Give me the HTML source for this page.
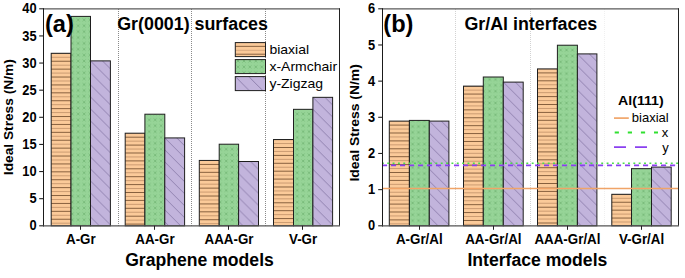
<!DOCTYPE html>
<html><head><meta charset="utf-8"><style>
html,body{margin:0;padding:0;background:#fff;width:685px;height:278px;overflow:hidden}
svg{display:block}
text{font-family:"Liberation Sans", sans-serif}
</style></head><body>
<svg width="685" height="278" viewBox="0 0 685 278">
<defs>
<pattern id="porL" patternUnits="userSpaceOnUse" x="0" y="5.90" width="8" height="7.85">
 <rect width="8" height="7.85" fill="#FBCA99"/>
 <rect y="0" width="8" height="0.9" fill="#7a5434"/>
 <rect y="3.925" width="8" height="0.8" fill="#cfa077"/>
</pattern>
<pattern id="pgrL" patternUnits="userSpaceOnUse" x="-1.72" y="-0.72" width="5.92" height="5.88">
 <rect width="5.92" height="5.88" fill="#96D497"/>
 <path d="M1.46 1.44 l3 3 M4.46 1.44 l-3 3" stroke="#64a866" stroke-width="0.55"/>
</pattern>
<pattern id="ppuL" patternUnits="userSpaceOnUse" x="5.20" y="0" width="12.0" height="12.0" >
 <rect width="12.0" height="12.0" fill="#C2B4DC"/>
 <path d="M-1 -1 L13.0 13.0 M-1 11.0 L1 13.0 M11.0 -1 L13.0 1" stroke="#66578a" stroke-width="0.55"/>
</pattern>
<pattern id="porR" patternUnits="userSpaceOnUse" x="0" y="7.25" width="8" height="7.85">
 <rect width="8" height="7.85" fill="#FBCA99"/>
 <rect y="0" width="8" height="0.9" fill="#7a5434"/>
 <rect y="3.925" width="8" height="0.8" fill="#cfa077"/>
</pattern>
<pattern id="pgrR" patternUnits="userSpaceOnUse" x="1.16" y="0.08" width="5.92" height="5.88">
 <rect width="5.92" height="5.88" fill="#96D497"/>
 <path d="M1.46 1.44 l3 3 M4.46 1.44 l-3 3" stroke="#64a866" stroke-width="0.55"/>
</pattern>
<pattern id="ppuR" patternUnits="userSpaceOnUse" x="7.80" y="0" width="12.0" height="12.0" >
 <rect width="12.0" height="12.0" fill="#C2B4DC"/>
 <path d="M-1 -1 L13.0 13.0 M-1 11.0 L1 13.0 M11.0 -1 L13.0 1" stroke="#66578a" stroke-width="0.55"/>
</pattern>
<pattern id="porG" patternUnits="userSpaceOnUse" x="0" y="6.60" width="8" height="7.85">
 <rect width="8" height="7.85" fill="#FBCA99"/>
 <rect y="0" width="8" height="0.9" fill="#7a5434"/>
 <rect y="3.925" width="8" height="0.8" fill="#cfa077"/>
</pattern>
<pattern id="pgrG" patternUnits="userSpaceOnUse" x="-1.72" y="-0.72" width="5.92" height="5.88">
 <rect width="5.92" height="5.88" fill="#96D497"/>
 <path d="M1.46 1.44 l3 3 M4.46 1.44 l-3 3" stroke="#64a866" stroke-width="0.55"/>
</pattern>
<pattern id="ppuG" patternUnits="userSpaceOnUse" x="10.20" y="0" width="13.5" height="13.5" >
 <rect width="13.5" height="13.5" fill="#C2B4DC"/>
 <path d="M-1 -1 L14.5 14.5 M-1 12.5 L1 14.5 M12.5 -1 L14.5 1" stroke="#66578a" stroke-width="0.55"/>
</pattern></defs>
<rect width="685" height="278" fill="#fff"/>

<line x1="118.5" y1="9.0" x2="118.5" y2="225.8" stroke="#8a8a8a" stroke-width="1" stroke-dasharray="1 1"/>
<line x1="191.5" y1="9.0" x2="191.5" y2="225.8" stroke="#8a8a8a" stroke-width="1" stroke-dasharray="1 1"/>
<line x1="265.5" y1="9.0" x2="265.5" y2="225.8" stroke="#8a8a8a" stroke-width="1" stroke-dasharray="1 1"/>
<pattern id="porL0" patternUnits="userSpaceOnUse" x="0" y="60.74" width="8" height="7.9"><rect width="8" height="7.9" fill="#FBCA99"/><rect y="0" width="8" height="0.9" fill="#7a5434"/><rect y="3.950" width="8" height="0.8" fill="#c09068"/></pattern>
<pattern id="ppuL0" patternUnits="userSpaceOnUse" x="90.50" y="60.88" width="12.0" height="12.0"><rect width="12.0" height="12.0" fill="#C2B4DC"/><path d="M-1 -1 L13.0 13.0 M-1 11.0 L1 13.0 M11.0 -1 L13.0 1" stroke="#66578a" stroke-width="0.55"/></pattern>
<rect x="51.20" y="53.29" width="19.80" height="172.51" fill="url(#porL0)" stroke="#1e1e1e" stroke-width="1"/>
<rect x="71.00" y="16.40" width="19.50" height="209.41" fill="url(#pgrL)" stroke="#1e1e1e" stroke-width="1"/>
<rect x="90.50" y="60.88" width="19.90" height="164.92" fill="url(#ppuL0)" stroke="#1e1e1e" stroke-width="1"/>
<pattern id="porL1" patternUnits="userSpaceOnUse" x="0" y="136.70" width="8" height="7.9"><rect width="8" height="7.9" fill="#FBCA99"/><rect y="0" width="8" height="0.9" fill="#7a5434"/><rect y="3.950" width="8" height="0.8" fill="#c09068"/></pattern>
<pattern id="ppuL1" patternUnits="userSpaceOnUse" x="164.80" y="137.92" width="12.0" height="12.0"><rect width="12.0" height="12.0" fill="#C2B4DC"/><path d="M-1 -1 L13.0 13.0 M-1 11.0 L1 13.0 M11.0 -1 L13.0 1" stroke="#66578a" stroke-width="0.55"/></pattern>
<rect x="125.20" y="133.20" width="19.70" height="92.60" fill="url(#porL1)" stroke="#1e1e1e" stroke-width="1"/>
<rect x="144.90" y="114.21" width="19.90" height="111.59" fill="url(#pgrL)" stroke="#1e1e1e" stroke-width="1"/>
<rect x="164.80" y="137.92" width="19.80" height="87.88" fill="url(#ppuL1)" stroke="#1e1e1e" stroke-width="1"/>
<pattern id="porL2" patternUnits="userSpaceOnUse" x="0" y="163.93" width="8" height="7.9"><rect width="8" height="7.9" fill="#FBCA99"/><rect y="0" width="8" height="0.9" fill="#7a5434"/><rect y="3.950" width="8" height="0.8" fill="#c09068"/></pattern>
<pattern id="ppuL2" patternUnits="userSpaceOnUse" x="238.60" y="161.51" width="12.0" height="12.0"><rect width="12.0" height="12.0" fill="#C2B4DC"/><path d="M-1 -1 L13.0 13.0 M-1 11.0 L1 13.0 M11.0 -1 L13.0 1" stroke="#66578a" stroke-width="0.55"/></pattern>
<rect x="199.30" y="160.43" width="19.90" height="65.37" fill="url(#porL2)" stroke="#1e1e1e" stroke-width="1"/>
<rect x="219.20" y="144.21" width="19.40" height="81.59" fill="url(#pgrL)" stroke="#1e1e1e" stroke-width="1"/>
<rect x="238.60" y="161.51" width="19.90" height="64.29" fill="url(#ppuL2)" stroke="#1e1e1e" stroke-width="1"/>
<pattern id="porL3" patternUnits="userSpaceOnUse" x="0" y="146.99" width="8" height="7.9"><rect width="8" height="7.9" fill="#FBCA99"/><rect y="0" width="8" height="0.9" fill="#7a5434"/><rect y="3.950" width="8" height="0.8" fill="#c09068"/></pattern>
<pattern id="ppuL3" patternUnits="userSpaceOnUse" x="312.90" y="97.34" width="12.0" height="12.0"><rect width="12.0" height="12.0" fill="#C2B4DC"/><path d="M-1 -1 L13.0 13.0 M-1 11.0 L1 13.0 M11.0 -1 L13.0 1" stroke="#66578a" stroke-width="0.55"/></pattern>
<rect x="273.50" y="139.54" width="20.00" height="86.26" fill="url(#porL3)" stroke="#1e1e1e" stroke-width="1"/>
<rect x="293.50" y="109.33" width="19.40" height="116.47" fill="url(#pgrL)" stroke="#1e1e1e" stroke-width="1"/>
<rect x="312.90" y="97.34" width="19.70" height="128.46" fill="url(#ppuL3)" stroke="#1e1e1e" stroke-width="1"/>
<line x1="455.5" y1="9.0" x2="455.5" y2="225.8" stroke="#d2d2d2" stroke-width="1" stroke-dasharray="1 1"/>
<line x1="530.5" y1="9.0" x2="530.5" y2="225.8" stroke="#d2d2d2" stroke-width="1" stroke-dasharray="1 1"/>
<line x1="604.5" y1="9.0" x2="604.5" y2="225.8" stroke="#f0f0f0" stroke-width="1" stroke-dasharray="1 1"/>
<pattern id="porR0" patternUnits="userSpaceOnUse" x="0" y="124.60" width="8" height="7.9"><rect width="8" height="7.9" fill="#FBCA99"/><rect y="0" width="8" height="0.9" fill="#7a5434"/><rect y="3.950" width="8" height="0.8" fill="#c09068"/></pattern>
<pattern id="ppuR0" patternUnits="userSpaceOnUse" x="429.30" y="121.10" width="12.0" height="12.0"><rect width="12.0" height="12.0" fill="#C2B4DC"/><path d="M-1 -1 L13.0 13.0 M-1 11.0 L1 13.0 M11.0 -1 L13.0 1" stroke="#66578a" stroke-width="0.55"/></pattern>
<rect x="389.30" y="121.10" width="20.10" height="104.70" fill="url(#porR0)" stroke="#1e1e1e" stroke-width="1"/>
<rect x="409.40" y="120.41" width="19.90" height="105.39" fill="url(#pgrR)" stroke="#1e1e1e" stroke-width="1"/>
<rect x="429.30" y="121.10" width="19.60" height="104.70" fill="url(#ppuR0)" stroke="#1e1e1e" stroke-width="1"/>
<pattern id="porR1" patternUnits="userSpaceOnUse" x="0" y="93.57" width="8" height="7.9"><rect width="8" height="7.9" fill="#FBCA99"/><rect y="0" width="8" height="0.9" fill="#7a5434"/><rect y="3.950" width="8" height="0.8" fill="#c09068"/></pattern>
<pattern id="ppuR1" patternUnits="userSpaceOnUse" x="503.30" y="82.11" width="12.0" height="12.0"><rect width="12.0" height="12.0" fill="#C2B4DC"/><path d="M-1 -1 L13.0 13.0 M-1 11.0 L1 13.0 M11.0 -1 L13.0 1" stroke="#66578a" stroke-width="0.55"/></pattern>
<rect x="463.50" y="86.12" width="19.80" height="139.68" fill="url(#porR1)" stroke="#1e1e1e" stroke-width="1"/>
<rect x="483.30" y="77.01" width="20.00" height="148.79" fill="url(#pgrR)" stroke="#1e1e1e" stroke-width="1"/>
<rect x="503.30" y="82.11" width="19.90" height="143.69" fill="url(#ppuR1)" stroke="#1e1e1e" stroke-width="1"/>
<pattern id="porR2" patternUnits="userSpaceOnUse" x="0" y="72.41" width="8" height="7.9"><rect width="8" height="7.9" fill="#FBCA99"/><rect y="0" width="8" height="0.9" fill="#7a5434"/><rect y="3.950" width="8" height="0.8" fill="#c09068"/></pattern>
<pattern id="ppuR2" patternUnits="userSpaceOnUse" x="577.40" y="53.90" width="12.0" height="12.0"><rect width="12.0" height="12.0" fill="#C2B4DC"/><path d="M-1 -1 L13.0 13.0 M-1 11.0 L1 13.0 M11.0 -1 L13.0 1" stroke="#66578a" stroke-width="0.55"/></pattern>
<rect x="537.50" y="68.91" width="19.90" height="156.89" fill="url(#porR2)" stroke="#1e1e1e" stroke-width="1"/>
<rect x="557.40" y="45.22" width="20.00" height="180.58" fill="url(#pgrR)" stroke="#1e1e1e" stroke-width="1"/>
<rect x="577.40" y="53.90" width="19.50" height="171.90" fill="url(#ppuR2)" stroke="#1e1e1e" stroke-width="1"/>
<pattern id="porR3" patternUnits="userSpaceOnUse" x="0" y="201.75" width="8" height="7.9"><rect width="8" height="7.9" fill="#FBCA99"/><rect y="0" width="8" height="0.9" fill="#7a5434"/><rect y="3.950" width="8" height="0.8" fill="#c09068"/></pattern>
<pattern id="ppuR3" patternUnits="userSpaceOnUse" x="651.50" y="167.10" width="12.0" height="12.0"><rect width="12.0" height="12.0" fill="#C2B4DC"/><path d="M-1 -1 L13.0 13.0 M-1 11.0 L1 13.0 M11.0 -1 L13.0 1" stroke="#66578a" stroke-width="0.55"/></pattern>
<rect x="611.80" y="194.30" width="19.70" height="31.50" fill="url(#porR3)" stroke="#1e1e1e" stroke-width="1"/>
<rect x="631.50" y="168.66" width="20.00" height="57.14" fill="url(#pgrR)" stroke="#1e1e1e" stroke-width="1"/>
<rect x="651.50" y="167.10" width="19.70" height="58.70" fill="url(#ppuR3)" stroke="#1e1e1e" stroke-width="1"/>
<line x1="382.5" y1="188.45" x2="678.5" y2="188.45" stroke="#F0A468" stroke-width="1.5"/>
<line x1="382.5" y1="163.3" x2="678.5" y2="163.3" stroke="#4ADC4A" stroke-width="1.45" stroke-dasharray="1.9 3.45" stroke-dashoffset="0.6"/>
<line x1="382.5" y1="165.35" x2="678.5" y2="165.35" stroke="#8A40F0" stroke-width="1.7" stroke-dasharray="5.1 3.9" stroke-dashoffset="0.5"/>
<line x1="43.5" y1="8.8" x2="339.5" y2="8.8" stroke="#5a5a5a" stroke-width="1.2"/>
<line x1="339.5" y1="8.200000000000001" x2="339.5" y2="225.8" stroke="#222" stroke-width="1"/>
<line x1="43.5" y1="8.200000000000001" x2="43.5" y2="226.4" stroke="#1a1a1a" stroke-width="1"/>
<line x1="43.0" y1="225.8" x2="340.0" y2="225.8" stroke="#555" stroke-width="1.3"/>
<line x1="382.5" y1="8.8" x2="678.5" y2="8.8" stroke="#5a5a5a" stroke-width="1.2"/>
<line x1="678.5" y1="8.200000000000001" x2="678.5" y2="225.8" stroke="#222" stroke-width="1"/>
<line x1="382.5" y1="8.200000000000001" x2="382.5" y2="226.4" stroke="#1a1a1a" stroke-width="1"/>
<line x1="382.0" y1="225.8" x2="679.0" y2="225.8" stroke="#555" stroke-width="1.3"/>
<line x1="39.2" y1="225.80" x2="43.5" y2="225.80" stroke="#222" stroke-width="1.1"/>
<text transform="translate(36.6 230.40) scale(0.88 1)" font-size="14.6" font-weight="bold" text-anchor="end" fill="#000">0</text>
<line x1="39.2" y1="198.68" x2="43.5" y2="198.68" stroke="#222" stroke-width="1.1"/>
<text transform="translate(36.6 203.28) scale(0.88 1)" font-size="14.6" font-weight="bold" text-anchor="end" fill="#000">5</text>
<line x1="39.2" y1="171.55" x2="43.5" y2="171.55" stroke="#222" stroke-width="1.1"/>
<text transform="translate(36.6 176.15) scale(0.88 1)" font-size="14.6" font-weight="bold" text-anchor="end" fill="#000">10</text>
<line x1="39.2" y1="144.43" x2="43.5" y2="144.43" stroke="#222" stroke-width="1.1"/>
<text transform="translate(36.6 149.03) scale(0.88 1)" font-size="14.6" font-weight="bold" text-anchor="end" fill="#000">15</text>
<line x1="39.2" y1="117.30" x2="43.5" y2="117.30" stroke="#222" stroke-width="1.1"/>
<text transform="translate(36.6 121.90) scale(0.88 1)" font-size="14.6" font-weight="bold" text-anchor="end" fill="#000">20</text>
<line x1="39.2" y1="90.18" x2="43.5" y2="90.18" stroke="#222" stroke-width="1.1"/>
<text transform="translate(36.6 94.78) scale(0.88 1)" font-size="14.6" font-weight="bold" text-anchor="end" fill="#000">25</text>
<line x1="39.2" y1="63.05" x2="43.5" y2="63.05" stroke="#222" stroke-width="1.1"/>
<text transform="translate(36.6 67.65) scale(0.88 1)" font-size="14.6" font-weight="bold" text-anchor="end" fill="#000">30</text>
<line x1="39.2" y1="35.93" x2="43.5" y2="35.93" stroke="#222" stroke-width="1.1"/>
<text transform="translate(36.6 40.53) scale(0.88 1)" font-size="14.6" font-weight="bold" text-anchor="end" fill="#000">35</text>
<line x1="39.2" y1="8.80" x2="43.5" y2="8.80" stroke="#222" stroke-width="1.1"/>
<text transform="translate(36.6 13.40) scale(0.88 1)" font-size="14.6" font-weight="bold" text-anchor="end" fill="#000">40</text>
<line x1="378.2" y1="225.80" x2="382.5" y2="225.80" stroke="#222" stroke-width="1.1"/>
<text transform="translate(375.2 230.40) scale(0.88 1)" font-size="14.6" font-weight="bold" text-anchor="end" fill="#000">0</text>
<line x1="378.2" y1="189.63" x2="382.5" y2="189.63" stroke="#222" stroke-width="1.1"/>
<text transform="translate(375.2 194.23) scale(0.88 1)" font-size="14.6" font-weight="bold" text-anchor="end" fill="#000">1</text>
<line x1="378.2" y1="153.47" x2="382.5" y2="153.47" stroke="#222" stroke-width="1.1"/>
<text transform="translate(375.2 158.07) scale(0.88 1)" font-size="14.6" font-weight="bold" text-anchor="end" fill="#000">2</text>
<line x1="378.2" y1="117.30" x2="382.5" y2="117.30" stroke="#222" stroke-width="1.1"/>
<text transform="translate(375.2 121.90) scale(0.88 1)" font-size="14.6" font-weight="bold" text-anchor="end" fill="#000">3</text>
<line x1="378.2" y1="81.13" x2="382.5" y2="81.13" stroke="#222" stroke-width="1.1"/>
<text transform="translate(375.2 85.73) scale(0.88 1)" font-size="14.6" font-weight="bold" text-anchor="end" fill="#000">4</text>
<line x1="378.2" y1="44.97" x2="382.5" y2="44.97" stroke="#222" stroke-width="1.1"/>
<text transform="translate(375.2 49.57) scale(0.88 1)" font-size="14.6" font-weight="bold" text-anchor="end" fill="#000">5</text>
<line x1="378.2" y1="8.80" x2="382.5" y2="8.80" stroke="#222" stroke-width="1.1"/>
<text transform="translate(375.2 13.40) scale(0.88 1)" font-size="14.6" font-weight="bold" text-anchor="end" fill="#000">6</text>
<line x1="80.50" y1="225.8" x2="80.50" y2="229.8" stroke="#222" stroke-width="1"/>
<text transform="translate(80.85 243.5) scale(0.915 1)" font-size="14.6" font-weight="bold" text-anchor="middle">A-Gr</text>
<line x1="154.50" y1="225.8" x2="154.50" y2="229.8" stroke="#222" stroke-width="1"/>
<text transform="translate(154.93 243.5) scale(0.915 1)" font-size="14.6" font-weight="bold" text-anchor="middle">AA-Gr</text>
<line x1="228.50" y1="225.8" x2="228.50" y2="229.8" stroke="#222" stroke-width="1"/>
<text transform="translate(229.01 243.5) scale(0.915 1)" font-size="14.6" font-weight="bold" text-anchor="middle">AAA-Gr</text>
<line x1="302.50" y1="225.8" x2="302.50" y2="229.8" stroke="#222" stroke-width="1"/>
<text transform="translate(303.09 243.5) scale(0.915 1)" font-size="14.6" font-weight="bold" text-anchor="middle">V-Gr</text>
<line x1="419.50" y1="225.8" x2="419.50" y2="229.8" stroke="#222" stroke-width="1"/>
<text transform="translate(419.30 243.5) scale(0.915 1)" font-size="14.6" font-weight="bold" text-anchor="middle">A-Gr/Al</text>
<line x1="493.50" y1="225.8" x2="493.50" y2="229.8" stroke="#222" stroke-width="1"/>
<text transform="translate(493.38 243.5) scale(0.915 1)" font-size="14.6" font-weight="bold" text-anchor="middle">AA-Gr/Al</text>
<line x1="567.50" y1="225.8" x2="567.50" y2="229.8" stroke="#222" stroke-width="1"/>
<text transform="translate(567.46 243.5) scale(0.915 1)" font-size="14.6" font-weight="bold" text-anchor="middle">AAA-Gr/Al</text>
<line x1="641.50" y1="225.8" x2="641.50" y2="229.8" stroke="#222" stroke-width="1"/>
<text transform="translate(641.54 243.5) scale(0.915 1)" font-size="14.6" font-weight="bold" text-anchor="middle">V-Gr/Al</text>
<text x="199.5" y="266.2" font-size="17.6" font-weight="bold" text-anchor="middle">Graphene models</text>
<text x="537.4" y="266.0" font-size="17.6" font-weight="bold" text-anchor="middle">Interface models</text>
<text transform="translate(13.0 117.2) rotate(-90) scale(1 0.91)" font-size="13.75" font-weight="bold" text-anchor="middle">Ideal Stress (N/m)</text>
<text transform="translate(359.1 122.9) rotate(-90) scale(1 0.9)" font-size="13.9" font-weight="bold" text-anchor="middle">Ideal Stress (N/m)</text>
<text transform="translate(44.9 31.5) scale(0.985 1)" font-size="24" font-weight="bold">(a)</text>
<text transform="translate(383.3 31.5) scale(0.985 1)" font-size="24" font-weight="bold">(b)</text>
<text x="117.2" y="29.7" font-size="17.85" font-weight="bold">Gr(0001) surfaces</text>
<text x="464.4" y="29.5" font-size="17.85" font-weight="bold">Gr/Al interfaces</text>
<rect x="235.3" y="42.6" width="30.2" height="14" fill="url(#porG)" stroke="#1e1e1e" stroke-width="1"/>
<text transform="translate(269.4 53.95) scale(1.03 1)" font-size="13.6" fill="#000">biaxial</text>
<rect x="235.3" y="59.6" width="30.2" height="14" fill="url(#pgrG)" stroke="#1e1e1e" stroke-width="1"/>
<text transform="translate(269.4 70.95) scale(1.03 1)" font-size="13.6" fill="#000">x-Armchair</text>
<rect x="235.3" y="76.6" width="30.2" height="14" fill="url(#ppuG)" stroke="#1e1e1e" stroke-width="1"/>
<text transform="translate(269.4 87.95) scale(1.03 1)" font-size="13.6" fill="#000">y-Zigzag</text>
<text transform="translate(618.1 105.2) scale(1.04 1)" font-size="13.6" font-weight="bold">Al(111)</text>
<line x1="614" y1="118.1" x2="628.8" y2="118.1" stroke="#F0A060" stroke-width="1.6"/>
<text x="631.8" y="122.4" font-size="13" >biaxial</text>
<line x1="614.7" y1="132.5" x2="658" y2="132.5" stroke="#30E030" stroke-width="2" stroke-dasharray="4.2 8.9"/>
<text x="661.8" y="136.8" font-size="13">x</text>
<line x1="614" y1="147.2" x2="648" y2="147.2" stroke="#8A40F0" stroke-width="1.8" stroke-dasharray="12 9"/>
<text x="662.2" y="151.5" font-size="13">y</text>
</svg></body></html>
